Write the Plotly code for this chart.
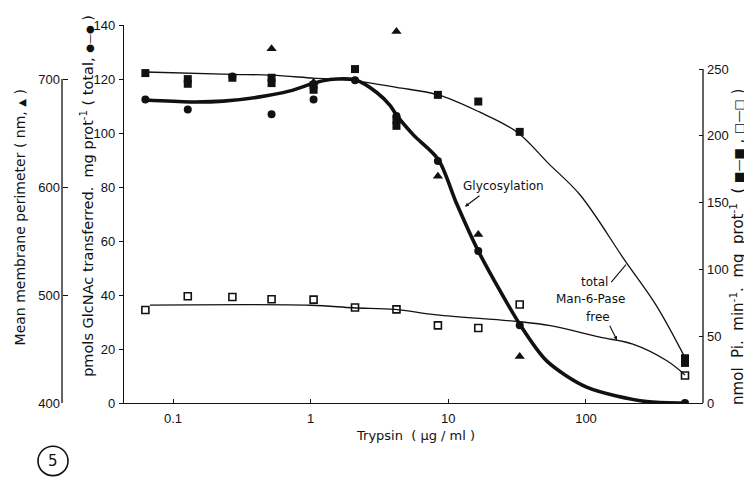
import plotly.graph_objects as go

# ---- data ----
trypsin_pts = [0.063, 0.128, 0.27, 0.52, 1.05, 2.1, 4.2, 8.4, 16.5, 33, 524]
glcnac_total = [112.4, 108.7, 120.9, 106.9, 112.4, 119.5, 106.3, 89.6, 56.3, 28.8, 0]
man6pase_free = [69.6, 79.9, 79.4, 77.7, 77.4, 71.5, 70.1, 58.1, 56.1, 73.8, 20.6]

perim_x = [0.52, 1.05, 4.2, 8.4, 16.5, 33]
perim_nm = [728, 697, 744, 610, 556, 443]

total_x = [0.063, 0.128, 0.128, 0.27, 0.52, 0.52, 1.05, 1.05, 2.1, 4.2, 4.2, 8.4, 16.5, 33, 524, 524]
man6pase_total = [247, 242.5, 239, 243.5, 243.5, 239.5, 238, 234.5, 250, 212, 207.5, 230.7, 225.7, 203, 33.5, 30]

glc_curve_x = [0.063, 0.133, 0.232, 0.405, 0.708, 1.045, 1.38, 2.12, 3.02, 3.77, 4.22, 5.57, 8.46, 11.5, 16.5, 33.2, 51.8, 101, 276, 524]
glc_curve_y = [112.2, 111.5, 111.8, 113.2, 115.6, 118.4, 119.8, 119.6, 115, 110.2, 106.5, 99.3, 90.2, 73.8, 56.3, 29, 15.6, 5.9, 0.5, 0]

total_curve_x = [0.063, 0.27, 0.52, 1.05, 2.1, 4.2, 8.45, 16.8, 31.5, 53.3, 90.4, 192, 322, 524]
total_curve_y = [247.8, 246.1, 245.4, 243.2, 241.2, 236.3, 230.7, 217.9, 202.9, 179.4, 155.9, 106.6, 73.5, 34]

free_curve_x = [0.068, 1.0, 2.03, 4.1, 8.2, 32, 55, 126, 219, 387, 524]
free_curve_y = [73.3, 73.2, 71.3, 70.1, 66, 61, 57.9, 49.3, 44.1, 31.6, 21]

x_tickvals = [0.1, 1, 10, 100]
x_ticktext = ["0.1", "1", "10", "100"]
glc_ticks = [0, 20, 40, 60, 80, 100, 120, 140]
pi_ticks = [0, 50, 100, 150, 200, 250]
perim_ticks = [400, 500, 600, 700]

# ---- layout geometry (reference pixels, page has an 8px body margin) ----
OFF = 8
W, H = 752, 480
PL, PR, PT, PB = 62, 703, 18, 403          # plot area in reference pixels (incl. membrane axis)
ML, MT = PL - OFF, PT - OFF
MR, MB = W - (PR - OFF), H - (PB - OFF)
PW, PH = PR - PL, PB - PT


def px(xp):
    return (xp - PL) / PW


def py(yp):
    return (PB - yp) / PH


FONT = "Liberation Sans"
TFONT = "DejaVu Sans"
BLACK = "#111111"

fig = go.Figure()

fig.add_trace(go.Scatter(x=glc_curve_x, y=glc_curve_y, mode="lines",
                         line=dict(color=BLACK, width=3.6, shape="spline", smoothing=0.8),
                         yaxis="y", showlegend=False, hoverinfo="skip"))
fig.add_trace(go.Scatter(x=total_curve_x, y=total_curve_y, mode="lines",
                         line=dict(color=BLACK, width=1.3, shape="spline", smoothing=1.0),
                         yaxis="y2", showlegend=False, hoverinfo="skip"))
fig.add_trace(go.Scatter(x=free_curve_x, y=free_curve_y, mode="lines",
                         line=dict(color=BLACK, width=1.3, shape="spline", smoothing=1.0),
                         yaxis="y2", showlegend=False, hoverinfo="skip"))

fig.add_trace(go.Scatter(x=trypsin_pts, y=glcnac_total, mode="markers",
                         marker=dict(symbol="circle", size=8, color=BLACK),
                         yaxis="y", showlegend=False))
fig.add_trace(go.Scatter(x=total_x, y=man6pase_total, mode="markers",
                         marker=dict(symbol="square", size=8, color=BLACK),
                         yaxis="y2", showlegend=False))
fig.add_trace(go.Scatter(x=trypsin_pts, y=man6pase_free, mode="markers",
                         marker=dict(symbol="square-open", size=7, color=BLACK, line=dict(width=1.6)),
                         yaxis="y2", showlegend=False))
fig.add_trace(go.Scatter(x=perim_x, y=perim_nm, mode="markers",
                         marker=dict(symbol="triangle-up", size=9, color=BLACK),
                         yaxis="y3", showlegend=False))

xstart = (124 - PL) / PW

fig.update_layout(
    width=W, height=H,
    margin=dict(l=ML, r=MR, t=MT, b=MB, pad=0),
    paper_bgcolor="white", plot_bgcolor="white",
    font=dict(family=FONT, size=13, color=BLACK),
    xaxis=dict(type="log", range=[-1.356, 2.850], domain=[xstart, 1],
               showgrid=False, zeroline=False, showline=True, linecolor=BLACK, linewidth=1.3,
               ticks="inside", ticklen=4, tickcolor=BLACK, tickwidth=1.2,
               tickvals=x_tickvals, ticktext=x_ticktext, ticklabelstandoff=3,
               tickfont=dict(family=FONT, size=13)),
    yaxis=dict(range=[0, 140], anchor="x", side="left",
               showgrid=False, zeroline=False, showline=True, linecolor=BLACK, linewidth=1.3,
               ticks="outside", ticklen=4, tickcolor=BLACK, tickwidth=1.2,
               tickvals=glc_ticks, ticklabelstandoff=1,
               tickfont=dict(family=FONT, size=13)),
    yaxis2=dict(range=[0, 283], overlaying="y", side="right", anchor="x",
                showgrid=False, zeroline=False, showline=False,
                ticks="inside", ticklen=4, tickcolor=BLACK, tickwidth=1.2,
                tickvals=pi_ticks, ticklabelstandoff=3,
                tickfont=dict(family=FONT, size=13)),
    yaxis3=dict(range=[400, 750], overlaying="y", side="left", anchor="free", position=0,
                showgrid=False, zeroline=False, showline=False,
                ticks="inside", ticklen=5, tickcolor=BLACK, tickwidth=1.2,
                tickvals=perim_ticks, ticklabelstandoff=2,
                tickfont=dict(family=FONT, size=13)),
)

shapes = [
    dict(type="line", xref="paper", yref="y3", x0=0, x1=0, y0=400, y1=700,
         line=dict(color=BLACK, width=1.3)),
    dict(type="line", xref="paper", yref="y2", x0=1, x1=1, y0=0, y1=250,
         line=dict(color=BLACK, width=1.3)),
    dict(type="circle", xref="paper", yref="paper",
         x0=px(38), x1=px(68), y0=py(477), y1=py(447),
         line=dict(color=BLACK, width=1.6)),
]
fig.update_layout(shapes=shapes)


def sym(s, size=8):
    return '<span style="font-size:%dpx">%s</span>' % (size, s)


ann = [
    dict(text="Mean membrane perimeter ( nm, " + sym("▲", 10) + " )", x=px(20), y=py(214), textangle=-90,
         font=dict(family=TFONT, size=14)),
    dict(text="pmols GlcNAc transferred.  mg prot<sup>-1</sup> ( total, " + sym("●—●", 10) + " )",
         x=px(87), y=py(192), textangle=-90, font=dict(family=TFONT, size=14.5)),
    dict(text="nmol  Pi.  min<sup>-1</sup>.  mg  prot<sup>-1</sup>  ( " + sym("■—■", 12) + " , " + sym("□—□", 12) + " )",
         x=px(737), y=py(244), textangle=-90, font=dict(family=TFONT, size=15)),
    dict(text="Trypsin  ( µg / ml )", x=px(415), y=py(436), font=dict(family=TFONT, size=13)),
    dict(text="Glycosylation", x=px(503), y=py(182), font=dict(family=TFONT, size=12)),
    dict(text="total", x=px(594), y=py(280), font=dict(family=TFONT, size=12)),
    dict(text="Man-6-Pase", x=px(590), y=py(297), font=dict(family=TFONT, size=12)),
    dict(text="free", x=px(598), y=py(315), font=dict(family=TFONT, size=12)),
    dict(text="5", x=px(53), y=py(462), font=dict(family=TFONT, size=15)),
]
for a in ann:
    a.update(xref="paper", yref="paper", showarrow=False, xanchor="center", yanchor="middle")

arrows = [
    dict(x=px(465), y=py(203), ax=481, ay=191, arrowhead=2, arrowsize=0.7),
    dict(x=px(626), y=py(262), ax=610, ay=281, arrowhead=0, arrowsize=1),
    dict(x=px(617), y=py(339), ax=609, ay=323, arrowhead=2, arrowsize=0.7),
]
for a in arrows:
    a.update(xref="paper", yref="paper", axref="pixel", ayref="pixel", text="", showarrow=True,
             arrowwidth=1.1, arrowcolor=BLACK)
    a["ax"] = a["ax"] - (PL + a["x"] * PW)
    a["ay"] = a["ay"] - (PB - a["y"] * PH)

fig.update_layout(annotations=ann + arrows)

fig.write_html("out.html")
